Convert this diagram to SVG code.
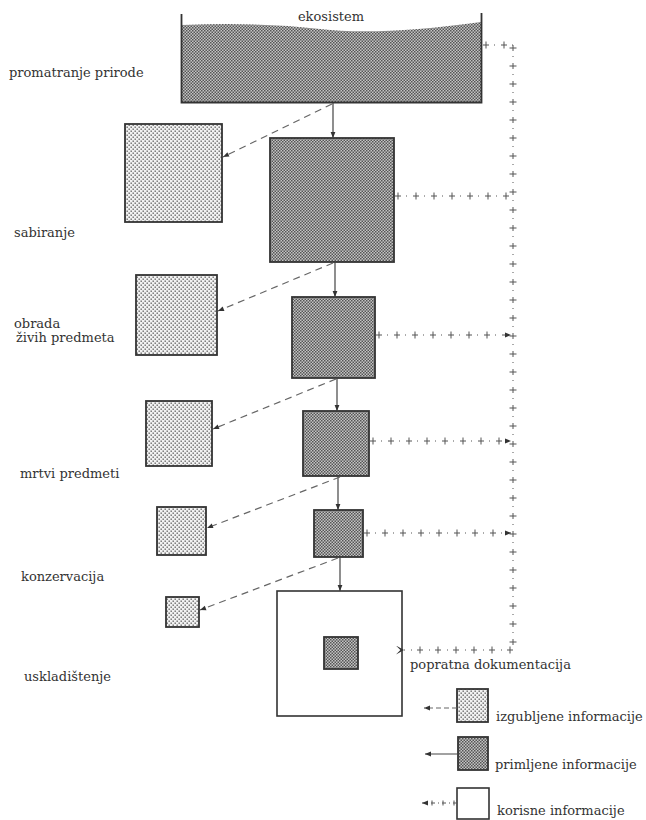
<svg xmlns="http://www.w3.org/2000/svg" width="646" height="820" viewBox="0 0 646 820">
<style>
  text { font-family: "DejaVu Serif", "Liberation Serif", serif; font-size: 13px; fill: #333; }
  .dark { fill: url(#darkPat); stroke: #333; stroke-width: 1.8; }
  .light { fill: url(#lightPat); stroke: #333; stroke-width: 1.8; }
  .white { fill: #fff; stroke: #333; stroke-width: 1.6; }
  .solid { stroke: #444; stroke-width: 1.2; fill: none; }
  .dash { stroke: #666; stroke-width: 1.2; stroke-dasharray: 7 5; fill: none; }
  .pl { stroke: #555; stroke-width: 1; stroke-dasharray: 6 5 1 6; fill: none; }
  .plbar { stroke: #555; stroke-width: 7; stroke-dasharray: 1 17; stroke-dashoffset: -2.5; fill: none; }
</style>
<defs>
  <pattern id="darkPat" width="3" height="3" patternUnits="userSpaceOnUse">
    <rect width="3" height="3" fill="#c4c4c4"/>
    <rect width="1.5" height="1.5" fill="#555"/>
    <rect x="1.5" y="1.5" width="1.5" height="1.5" fill="#555"/>
  </pattern>
  <pattern id="lightPat" width="4" height="4" patternUnits="userSpaceOnUse">
    <rect width="4" height="4" fill="#f2f2f2"/>
    <rect x="0.5" y="0.5" width="1.4" height="1.4" fill="#666"/>
    <rect x="2.5" y="2.5" width="1.4" height="1.4" fill="#666"/>
  </pattern>
  <marker id="ah" viewBox="0 0 10 10" refX="10" refY="5" markerWidth="7" markerHeight="6" orient="auto" markerUnits="userSpaceOnUse">
    <path d="M0,1 L10,5 L0,9 z" fill="#333"/>
  </marker>
  <marker id="ahBarb" viewBox="0 0 10 10" refX="1" refY="5" markerWidth="9" markerHeight="9" orient="auto" markerUnits="userSpaceOnUse">
    <path d="M10,0 L1,5 L10,10 L5,5 z" fill="#333"/>
  </marker>
</defs>

<g id="ecosystem">
  <path d="M182,25 Q260,22 320,29 T481,22 L481,102 L182,102 Z" fill="url(#darkPat)"/>
  <path d="M181.5,14 V102.5 H481.5 V13" fill="none" stroke="#333" stroke-width="1.8"/>
  <text x="331" y="21" text-anchor="middle">ekosistem</text>
</g>

<g id="labels">
  <text x="9" y="77">promatranje prirode</text>
  <text x="14" y="237">sabiranje</text>
  <text x="14" y="328">obrada</text>
  <text x="16" y="342">živih predmeta</text>
  <text x="20" y="478">mrtvi predmeti</text>
  <text x="21" y="581">konzervacija</text>
  <text x="24" y="681">uskladištenje</text>
</g>

<g id="node-sabiranje"><rect class="dark" x="270" y="138" width="124" height="124"/></g>
<g id="node-obrada"><rect class="dark" x="292" y="297" width="83" height="81"/></g>
<g id="node-mrtvi"><rect class="dark" x="303" y="411" width="66" height="65"/></g>
<g id="node-konzervacija"><rect class="dark" x="314" y="510" width="49" height="47"/></g>
<g id="node-uskladistenje">
  <rect class="white" x="277" y="591" width="125" height="125"/>
  <rect class="dark" x="324" y="637" width="34" height="32"/>
</g>

<g id="lost-1"><rect class="light" x="125" y="124" width="97" height="98"/></g>
<g id="lost-2"><rect class="light" x="136" y="275" width="81" height="80"/></g>
<g id="lost-3"><rect class="light" x="146" y="401" width="66" height="65"/></g>
<g id="lost-4"><rect class="light" x="157" y="507" width="49" height="48"/></g>
<g id="lost-5"><rect class="light" x="166" y="597" width="33" height="30"/></g>

<g id="connectors">
  <line class="solid" x1="333" y1="103" x2="333" y2="138" marker-end="url(#ah)"/>
  <line class="solid" x1="335" y1="262" x2="335" y2="297" marker-end="url(#ah)"/>
  <line class="solid" x1="337" y1="378" x2="337" y2="411" marker-end="url(#ah)"/>
  <line class="solid" x1="338" y1="476" x2="338" y2="510" marker-end="url(#ah)"/>
  <line class="solid" x1="340" y1="557" x2="340" y2="591" marker-end="url(#ah)"/>

  <line class="dash" x1="332" y1="104" x2="223" y2="157" marker-end="url(#ah)"/>
  <line class="dash" x1="333" y1="263" x2="218" y2="311" marker-end="url(#ah)"/>
  <line class="dash" x1="336" y1="379" x2="213" y2="429" marker-end="url(#ah)"/>
  <line class="dash" x1="340" y1="477" x2="207" y2="528" marker-end="url(#ah)"/>
  <line class="dash" x1="338" y1="558" x2="200" y2="610" marker-end="url(#ah)"/>

  <g id="doc-vertical">
    <line class="pl" x1="513" y1="45" x2="513" y2="650"/>
    <line class="plbar" x1="513" y1="45" x2="513" y2="650"/>
  </g>
  <g id="doc-top">
    <line class="pl" x1="483" y1="45" x2="513" y2="45"/>
    <line class="plbar" x1="483" y1="45" x2="513" y2="45"/>
  </g>
  <g id="doc-1">
    <line class="pl" x1="395" y1="196" x2="513" y2="196"/>
    <line class="plbar" x1="395" y1="196" x2="513" y2="196"/>
  </g>
  <g id="doc-2">
    <line class="pl" x1="376" y1="335" x2="511" y2="335" marker-end="url(#ah)"/>
    <line class="plbar" x1="376" y1="335" x2="500" y2="335"/>
  </g>
  <g id="doc-3">
    <line class="pl" x1="370" y1="441" x2="511" y2="441" marker-end="url(#ah)"/>
    <line class="plbar" x1="370" y1="441" x2="500" y2="441"/>
  </g>
  <g id="doc-4">
    <line class="pl" x1="364" y1="533" x2="511" y2="533" marker-end="url(#ah)"/>
    <line class="plbar" x1="364" y1="533" x2="500" y2="533"/>
  </g>
  <g id="doc-bottom">
    <line class="pl" x1="513" y1="650" x2="404" y2="650" marker-end="url(#ahBarb)"/>
    <line class="plbar" x1="513" y1="650" x2="412" y2="650"/>
  </g>
</g>

<text x="410" y="669">popratna dokumentacija</text>

<g id="legend">
  <g id="legend-lost">
    <rect class="light" x="457" y="689" width="31" height="33"/>
    <line class="dash" x1="457" y1="708" x2="424" y2="708" marker-end="url(#ah)" style="stroke-dasharray:5 3"/>
    <text x="496" y="721">izgubljene informacije</text>
  </g>
  <g id="legend-received">
    <rect class="dark" x="458" y="737" width="30" height="33"/>
    <line class="solid" x1="458" y1="754" x2="425" y2="754" marker-end="url(#ah)"/>
    <text x="495" y="769">primljene informacije</text>
  </g>
  <g id="legend-useful">
    <rect class="white" x="457" y="788" width="32" height="31"/>
    <line class="pl" x1="457" y1="803" x2="422" y2="803" marker-end="url(#ah)" style="stroke-dasharray:4 3 1 3"/>
    <line class="plbar" x1="457" y1="803" x2="430" y2="803" style="stroke-width:5;stroke-dasharray:1 10"/>
    <text x="497" y="815">korisne informacije</text>
  </g>
</g>
</svg>
